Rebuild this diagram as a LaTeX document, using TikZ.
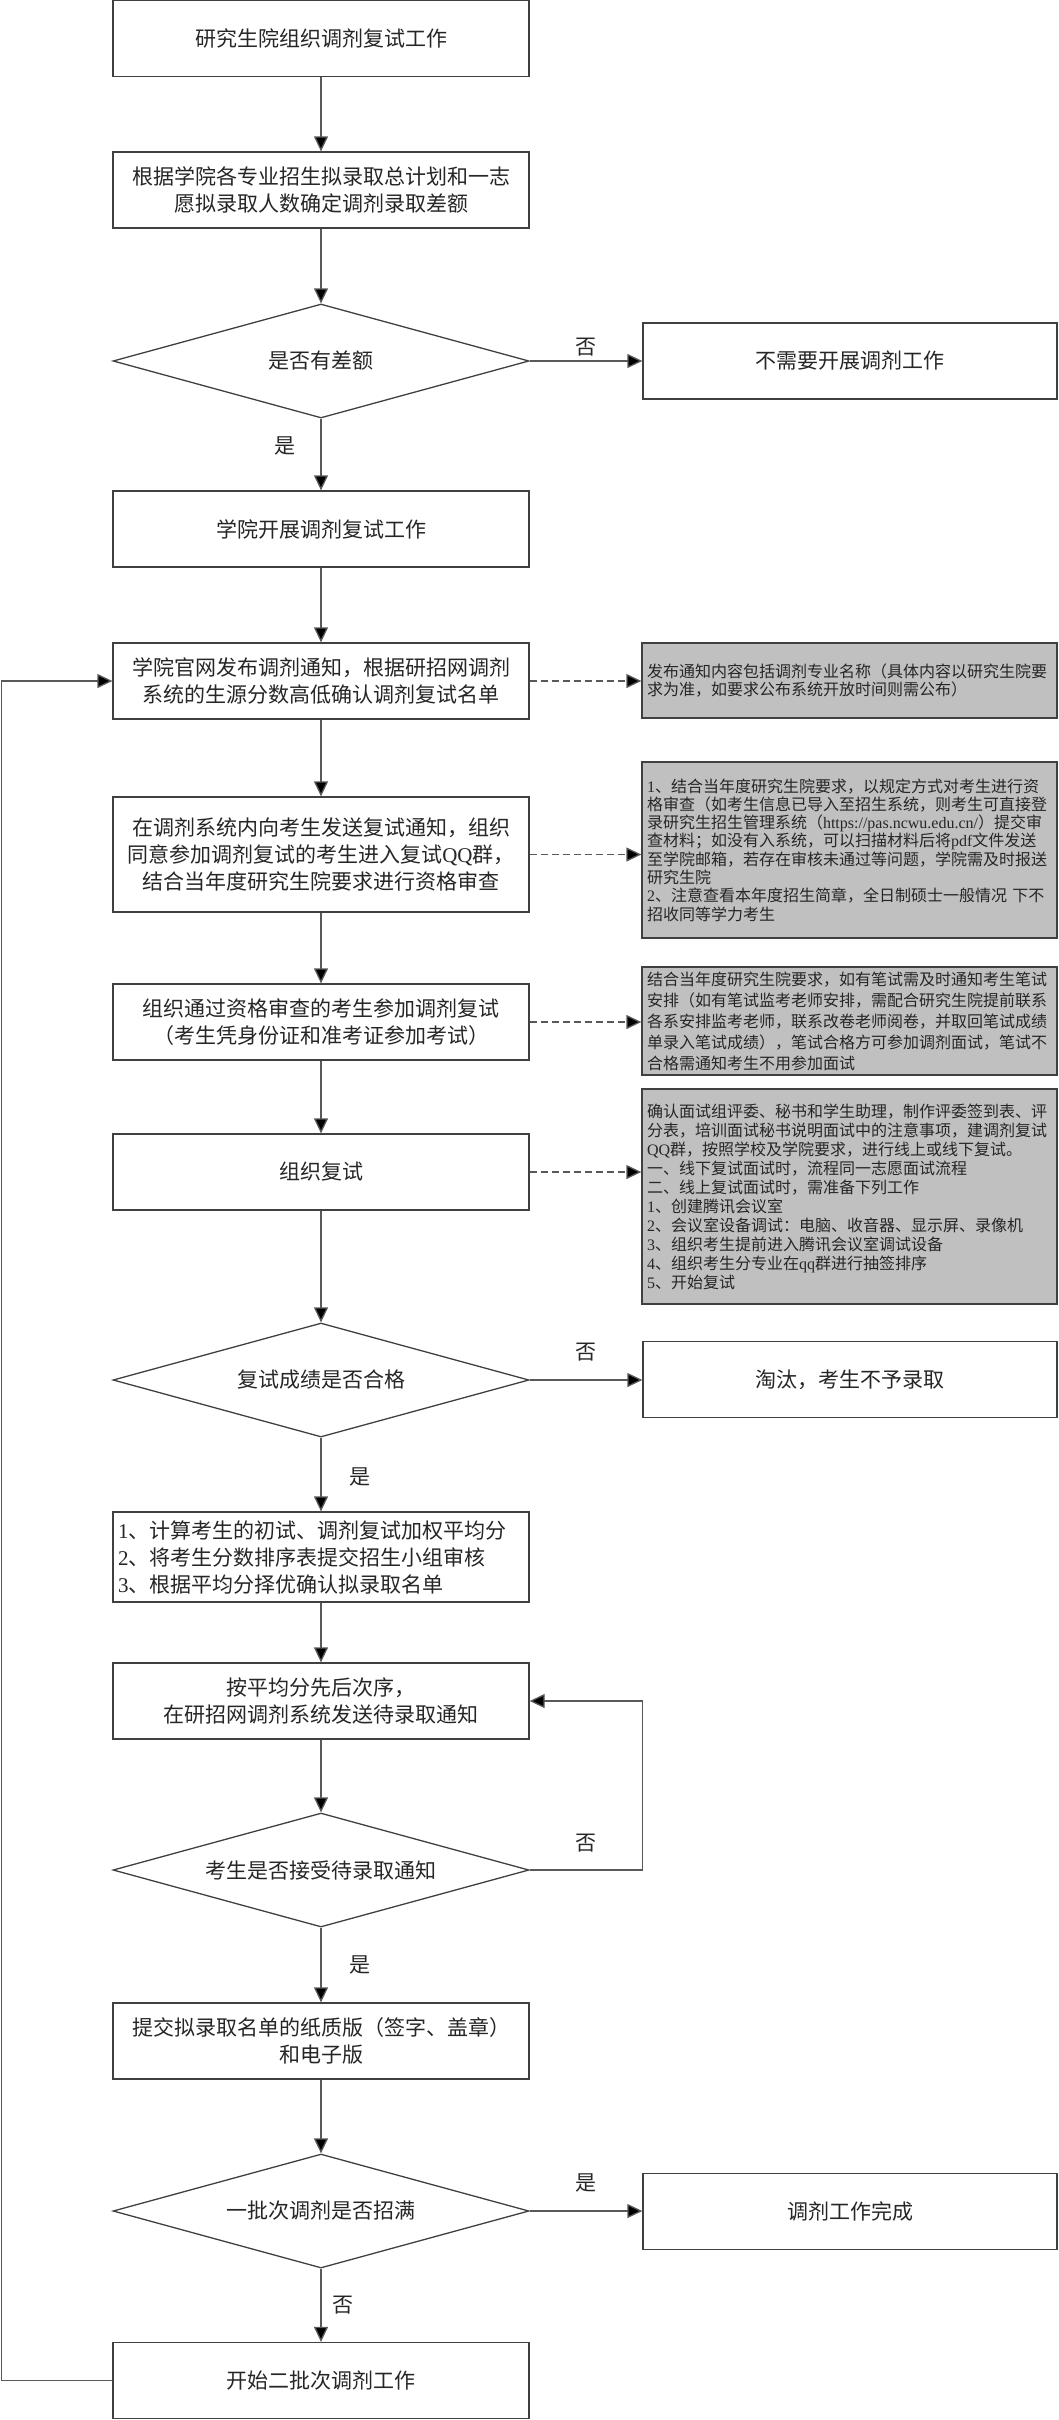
\documentclass[tikz,border=0pt]{standalone}
\usepackage{fontspec}
\setmainfont{Liberation Serif}
\newfontfamily\cjk{Noto Sans CJK SC}
\usetikzlibrary{arrows.meta,shapes.geometric}
\newcommand\latn[1]{{\rmfamily #1}}
\begin{document}
\begin{tikzpicture}[x=1pt,y=-1pt,
  mbox/.style={draw=black!75, line width=1.3pt, fill=white, minimum width=416pt, minimum height=76pt,
    align=center, inner sep=0pt, text=black!85, font=\cjk\fontsize{21}{27}\selectfont},
  rbox/.style={mbox, minimum width=414pt},
  dia/.style={draw=black!75, line width=1.3pt, fill=white, shape=diamond, shape aspect=3.65,
    minimum width=416pt, minimum height=114pt, inner sep=0pt, text=black!85,
    font=\cjk\fontsize{21}{27}\selectfont},
  note/.style={draw=black!75, line width=1.3pt, fill={rgb,255:red,192;green,192;blue,192},
    text width=405pt, align=left, inner xsep=5pt, inner ysep=3pt, text=black!85},
  arr/.style={draw=black!65, line width=1.3pt, -{Triangle[length=15pt,width=14pt,fill=black]}},
  darr/.style={arr, dash pattern=on 7pt off 4pt},
  lbl/.style={font=\cjk\fontsize{21}{21}\selectfont, inner sep=0pt, text=black!85}
]
\useasboundingbox (0,0) rectangle (1058,2420);

% main column
\node[mbox] (b1) at (321,38.8) {研究生院组织调剂复试工作};
\node[mbox] (b2) at (321,190) {根据学院各专业招生拟录取总计划和一志\\愿拟录取人数确定调剂录取差额};
\node[dia] (d1) at (321,361) {是否有差额};
\node[rbox] (r1) at (850,361) {不需要开展调剂工作};
\node[mbox] (b3) at (321,529) {学院开展调剂复试工作};
\node[mbox] (b5) at (321,681) {学院官网发布调剂通知，根据研招网调剂\\系统的生源分数高低确认调剂复试名单};
\node[mbox, minimum height=115pt] (b6) at (321,854.5) {在调剂系统内向考生发送复试通知，组织\\同意参加调剂复试的考生进入复试\latn{QQ}群，\\结合当年度研究生院要求进行资格审查};
\node[mbox] (b7) at (321,1022) {组织通过资格审查的考生参加调剂复试\\（考生凭身份证和准考证参加考试）};
\node[mbox] (b8) at (321,1172) {组织复试};
\node[dia] (d2) at (321,1380) {复试成绩是否合格};
\node[rbox] (r2) at (850,1379.5) {淘汰，考生不予录取};
\node[mbox, minimum height=90pt, text width=406pt, align=left, inner xsep=5pt] (b9) at (321,1557)
  {\latn{1}、计算考生的初试、调剂复试加权平均分\\\latn{2}、将考生分数排序表提交招生小组审核\\\latn{3}、根据平均分择优确认拟录取名单};
\node[mbox] (b10) at (321,1701) {按平均分先后次序，\\在研招网调剂系统发送待录取通知};
\node[dia] (d3) at (321,1870) {考生是否接受待录取通知};
\node[mbox] (b11) at (321,2041) {提交拟录取名单的纸质版（签字、盖章）\\和电子版};
\node[dia] (d4) at (321,2211) {一批次调剂是否招满};
\node[rbox] (r3) at (850,2211.5) {调剂工作完成};
\node[mbox] (b12) at (321,2380.5) {开始二批次调剂工作};

% notes
\node[note, minimum height=75pt, font=\cjk\fontsize{16}{18}\selectfont] (n1) at (849.5,680.5)
  {发布通知内容包括调剂专业名称（具体内容以研究生院要\\求为准，如要求公布系统开放时间则需公布）};
\node[note, minimum height=176pt, font=\cjk\fontsize{16}{18.3}\selectfont] (n2) at (849.5,850)
  {\latn{1}、结合当年度研究生院要求，以规定方式对考生进行资\\
   格审查（如考生信息已导入至招生系统，则考生可直接登\\
   录研究生招生管理系统（\latn{https://pas.ncwu.edu.cn/}）提交审\\
   查材料；如没有入系统，可以扫描材料后将\latn{pdf}文件发送\\
   至学院邮箱，若存在审核未通过等问题，学院需及时报送\\
   研究生院\\
   \latn{2}、注意查看本年度招生简章，全日制硕士一般情况 下不\\
   招收同等学力考生};
\node[note, minimum height=108pt, font=\cjk\fontsize{16}{21}\selectfont] (n3) at (849.5,1021)
  {结合当年度研究生院要求，如有笔试需及时通知考生笔试\\
   安排（如有笔试监考老师安排，需配合研究生院提前联系\\
   各系安排监考老师，联系改卷老师阅卷，并取回笔试成绩\\
   单录入笔试成绩），笔试合格方可参加调剂面试，笔试不\\
   合格需通知考生不用参加面试};
\node[note, minimum height=215pt, inner ysep=2pt, font=\cjk\fontsize{16}{19}\selectfont] (n4) at (849.5,1196.5)
  {确认面试组评委、秘书和学生助理，制作评委签到表、评\\
   分表，培训面试秘书说明面试中的注意事项，建调剂复试\\
   \latn{QQ}群，按照学校及学院要求，进行线上或线下复试。\\
   一、线下复试面试时，流程同一志愿面试流程\\
   二、线上复试面试时，需准备下列工作\\
   \latn{1}、创建腾讯会议室\\
   \latn{2}、会议室设备调试：电脑、收音器、显示屏、录像机\\
   \latn{3}、组织考生提前进入腾讯会议室调试设备\\
   \latn{4}、组织考生分专业在\latn{qq}群进行抽签排序\\
   \latn{5}、开始复试};

% connectors
\draw[arr] (b1) -- (b2);
\draw[arr] (b2) -- (d1);
\draw[arr] (d1.east) -- node[lbl, midway, yshift=14pt] {否} (r1.west);
\draw[arr] (d1) -- node[lbl, midway, xshift=-36pt, yshift=9pt] {是} (b3);
\draw[arr] (b3) -- (b5);
\draw[arr] (b5) -- (b6);
\draw[arr] (b6) -- (b7);
\draw[arr] (b7) -- (b8);
\draw[arr] (b8) -- (d2);
\draw[arr] (d2.east) -- node[lbl, midway, yshift=28pt] {否} (d2.east -| r2.west);
\draw[arr] (d2) -- node[lbl, midway, xshift=39pt, yshift=-2pt] {是} (b9);
\draw[arr] (b9) -- (b10);
\draw[arr] (b10) -- (d3);
\draw[arr] (d3.east) -- node[lbl, midway, yshift=27pt] {否} ++(113,0) |- (b10.east);
\draw[arr] (d3) -- node[lbl, midway, xshift=39pt] {是} (b11);
\draw[arr] (b11) -- (d4);
\draw[arr] (d4.east) -- node[lbl, midway, yshift=28pt] {是} (d4.east -| r3.west);
\draw[arr] (d4) -- node[lbl, midway, xshift=22pt] {否} (b12);
\coordinate (lx) at (1.5,0);
\draw[arr] (b12.west) -- (b12.west -| lx) |- (b5.west);

% dashed links to notes
\draw[darr] (b5.east) -- (b5.east -| n1.west);
\draw[darr] (b6.east) -- (b6.east -| n2.west);
\draw[darr] (b7.east) -- (b7.east -| n3.west);
\draw[darr] (b8.east) -- (b8.east -| n4.west);
\end{tikzpicture}
\end{document}
